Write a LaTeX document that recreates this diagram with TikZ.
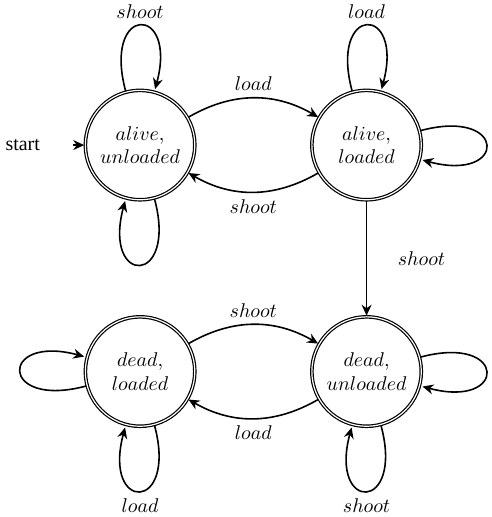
\documentclass[tikz,border=0pt]{standalone}
\usepackage{fontspec}
\setmainfont{Liberation Serif}
\usepackage{tikz}
\usetikzlibrary{automata,positioning,arrows.meta}

\begin{document}
\begin{tikzpicture}[
        >={Stealth[length=5.5pt,width=5pt,inset=1.8pt]},
        every state/.style = {draw, semithick, align=center, minimum size=55pt},
        node distance=4cm, auto, thick
        ]
        \useasboundingbox (-70.4pt,-186.9pt) rectangle (176.4pt,72.9pt);
        \node[state,accepting] (au) {$alive,$\\$unloaded$};
        \node[state,accepting] (al) [right of=au] {$alive,$\\$loaded$};
        \node[state,accepting] (dl) [below of=au] {$dead,$\\$loaded$};
        \node[state,accepting] (du) [below of=al] {$dead,$\\$unloaded$};
        \node (start) [left of=au, node distance=59pt] {start};
        \draw[->, shorten <=13pt] (start) -- (au);
        \path[->] (au) edge [loop above] node {$shoot$} ()
                       edge [out=-75, in=-105, loop] ()
                       edge [bend left] node {$load$} (al)
                  (al) edge [loop above] node {$load$} ()
                       edge [loop right] ()
                       edge [bend left] node {$shoot$} (au)
                       edge node [right=12pt] {$shoot$} (du)
                  (dl) edge [loop left] ()
                       edge [out=-75, in=-105, loop] node [below] {$load$} ()
                       edge [bend left] node {$shoot$} (du)
                  (du) edge [loop right] ()
                       edge [out=-75, in=-105, loop] node [below] {$shoot$} ()
                       edge [bend left] node {$load$} (dl);
        \end{tikzpicture}
\end{document}
